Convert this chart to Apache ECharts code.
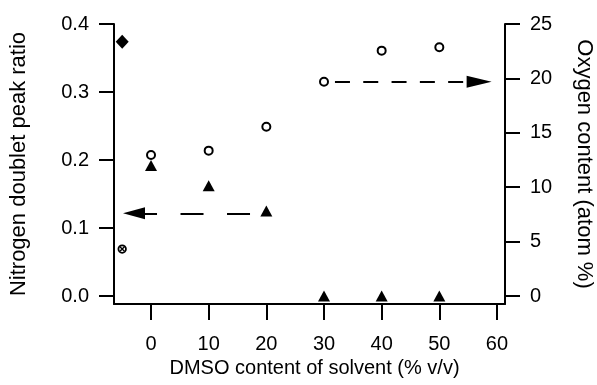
<!DOCTYPE html>
<html>
<head>
<meta charset="utf-8">
<script src="https://cdn.jsdelivr.net/npm/echarts@6/dist/echarts.min.js"></script>
<style>
  html, body { margin: 0; padding: 0; background: #fff; }
  #main { width: 597px; height: 385px; }
</style>
</head>
<body>
<div id="main"></div>
<script>
const xTicks = [0, 10, 20, 30, 40, 50, 60];
const leftTicks = [0, 0.1, 0.2, 0.3, 0.4];
const rightTicks = [0, 5, 10, 15, 20, 25];

// DMSO content (% v/v)
const dmso = [0, 10, 20, 30, 40, 50];
// oxygen content, right axis (atom %)
const oxygen = [12.96, 13.36, 15.56, 19.7, 22.55, 22.86];
// nitrogen doublet peak ratio, left axis
const nitrogen = [0.192, 0.162, 0.125, 0, 0, 0];

// reference points at x = -5
const refX = -5;
const refDiamond = 0.374;
const refCross = 0.069;

// dashed arrows (start -> end)
const arrowLeft = [[17.17, 0.1216], [-2.95, 0.1216]];
const arrowRight = [[31.9, 19.69], [56.9, 19.69]];

const FONT = "Liberation Sans";
const black = "#000";

let myChart = echarts.init(document.getElementById("main"));

const axisBase = {
  axisLine: { show: true, onZero: false, lineStyle: { color: black, width: 2 } },
  axisTick: { show: true, inside: false, length: 15, lineStyle: { color: black, width: 2 } },
  axisLabel: { color: black, fontSize: 20, fontFamily: FONT },
  splitLine: { show: false },
  nameTextStyle: { color: black, fontSize: 20, fontFamily: FONT },
};

myChart.setOption({
  backgroundColor: "#fff",
  animation: false,
  grid: {
    left: 114, right: 92, top: 24, bottom: 81,
    containLabel: false,
    outerBoundsMode: "none",
  },
  xAxis: {
    ...axisBase,
    type: "value",
    min: -6.42,
    max: 61.39,
    name: "DMSO content of solvent (% v/v)",
    nameLocation: "middle",
    nameGap: 54,
    nameTextStyle: { ...axisBase.nameTextStyle, padding: [0, 0, 0, 10] },
    axisTick: { ...axisBase.axisTick, length: 16, customValues: xTicks },
    axisLabel: { ...axisBase.axisLabel, margin: 30, customValues: xTicks },
  },
  yAxis: [
    {
      ...axisBase,
      type: "value",
      position: "left",
      min: -0.01176,
      max: 0.4,
      name: "Nitrogen doublet peak ratio",
      nameLocation: "middle",
      nameGap: 84,
      nameRotate: 90,
      nameTextStyle: { ...axisBase.nameTextStyle, fontSize: 22 },
      axisTick: { ...axisBase.axisTick, customValues: leftTicks },
      axisLabel: {
        ...axisBase.axisLabel,
        margin: 25,
        customValues: leftTicks,
        formatter: (v) => v.toFixed(1),
      },
    },
    {
      ...axisBase,
      type: "value",
      position: "right",
      min: -0.735,
      max: 25,
      name: "Oxygen content (atom %)",
      nameLocation: "middle",
      nameGap: 68,
      nameRotate: -90,
      nameTextStyle: { ...axisBase.nameTextStyle, fontSize: 22 },
      axisTick: { ...axisBase.axisTick, customValues: rightTicks },
      axisLabel: { ...axisBase.axisLabel, margin: 25, customValues: rightTicks },
    },
  ],
  series: [
    {
      name: "arrow N",
      type: "lines",
      coordinateSystem: "cartesian2d",
      yAxisIndex: 0,
      symbol: ["none", "triangle"],
      symbolSize: [[1, 1], [12, 22]],
      lineStyle: { color: black, width: 2, type: [23, 23.5], opacity: 1 },
      itemStyle: { color: black },
      data: [{ coords: arrowLeft }],
    },
    {
      name: "arrow O",
      type: "lines",
      coordinateSystem: "cartesian2d",
      yAxisIndex: 1,
      symbol: ["none", "triangle"],
      symbolSize: [[1, 1], [12, 25]],
      lineStyle: { color: black, width: 2, type: [15, 13.3], opacity: 1 },
      itemStyle: { color: black },
      data: [{ coords: arrowRight }],
    },
    {
      name: "Oxygen",
      type: "scatter",
      yAxisIndex: 1,
      symbol: "circle",
      symbolSize: 8,
      itemStyle: { color: "#fff", borderColor: black, borderWidth: 2, opacity: 1 },
      data: dmso.map((x, i) => [x, oxygen[i]]),
    },
    {
      name: "Nitrogen",
      type: "scatter",
      yAxisIndex: 0,
      symbol: "triangle",
      symbolSize: [12, 11],
      itemStyle: { color: black, opacity: 1 },
      data: dmso.map((x, i) => [x, nitrogen[i]]),
    },
    {
      name: "ref diamond",
      type: "scatter",
      yAxisIndex: 0,
      symbol: "diamond",
      symbolSize: [13, 14],
      itemStyle: { color: black, opacity: 1 },
      data: [[refX, refDiamond]],
    },
    {
      name: "ref cross circle",
      type: "scatter",
      yAxisIndex: 0,
      symbol: "circle",
      symbolSize: 7.5,
      itemStyle: { color: "#fff", borderColor: black, borderWidth: 1.8, opacity: 1 },
      data: [[refX, refCross]],
    },
    {
      name: "ref cross",
      type: "scatter",
      yAxisIndex: 0,
      symbol: "path://M0,0L10,10M10,0L0,10",
      symbolSize: 4.5,
      itemStyle: { color: "none", borderColor: black, borderWidth: 1.4, opacity: 1 },
      data: [[refX, refCross]],
    },
  ],
});
</script>
</body>
</html>
